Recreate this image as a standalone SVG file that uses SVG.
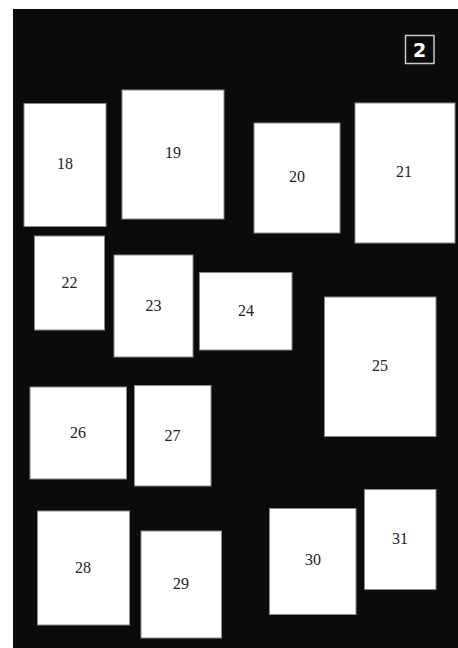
<svg xmlns="http://www.w3.org/2000/svg" width="458" height="648" viewBox="0 0 458 648">
<style>
.bg{fill:#0b0b0b}
.box{fill:#ffffff;stroke:#8a8a8a;stroke-width:1}
.lbl{font-family:"Liberation Serif","Times New Roman",serif;font-size:16px;fill:#222;text-anchor:middle}
.badge{fill:#0b0b0b;stroke:#c8c8c8;stroke-width:1.5}
.badgetxt{font-family:"DejaVu Sans","Liberation Sans",sans-serif;font-weight:bold;font-size:19px;fill:#fff;text-anchor:middle}
</style>
<rect x="0" y="0" width="458" height="648" fill="#ffffff"/>
<rect class="bg" x="13" y="9" width="445" height="639"/>
<g id="badge"><rect class="badge" x="405.5" y="35.5" width="28.5" height="28"/><text class="badgetxt" x="419.5" y="57">2</text></g>
<g id="n18"><rect class="box" x="24" y="103.5" width="82" height="123"/><text class="lbl" x="65" y="169">18</text></g>
<g id="n19"><rect class="box" x="122" y="90" width="102" height="129"/><text class="lbl" x="173" y="158">19</text></g>
<g id="n20"><rect class="box" x="254" y="123" width="86" height="110"/><text class="lbl" x="297" y="182">20</text></g>
<g id="n21"><rect class="box" x="355" y="103" width="100" height="140"/><text class="lbl" x="404" y="177">21</text></g>
<g id="n22"><rect class="box" x="34.5" y="236" width="70" height="94"/><text class="lbl" x="69.5" y="288">22</text></g>
<g id="n23"><rect class="box" x="114" y="255" width="79" height="102"/><text class="lbl" x="153.5" y="311">23</text></g>
<g id="n24"><rect class="box" x="199.5" y="272.5" width="92.5" height="77.5"/><text class="lbl" x="246" y="316">24</text></g>
<g id="n25"><rect class="box" x="324.5" y="297" width="111.5" height="139.5"/><text class="lbl" x="380" y="371">25</text></g>
<g id="n26"><rect class="box" x="30" y="387" width="96.5" height="92"/><text class="lbl" x="78" y="438">26</text></g>
<g id="n27"><rect class="box" x="134.5" y="385.5" width="76.5" height="100.5"/><text class="lbl" x="172.5" y="441">27</text></g>
<g id="n28"><rect class="box" x="37.5" y="511" width="92" height="114"/><text class="lbl" x="83" y="573">28</text></g>
<g id="n29"><rect class="box" x="141" y="531" width="80.5" height="107"/><text class="lbl" x="181" y="589">29</text></g>
<g id="n30"><rect class="box" x="269.5" y="508.5" width="86.5" height="106"/><text class="lbl" x="313" y="565">30</text></g>
<g id="n31"><rect class="box" x="364.5" y="489.5" width="71.5" height="100"/><text class="lbl" x="400" y="544">31</text></g>
<g id="connectors"></g>
</svg>
